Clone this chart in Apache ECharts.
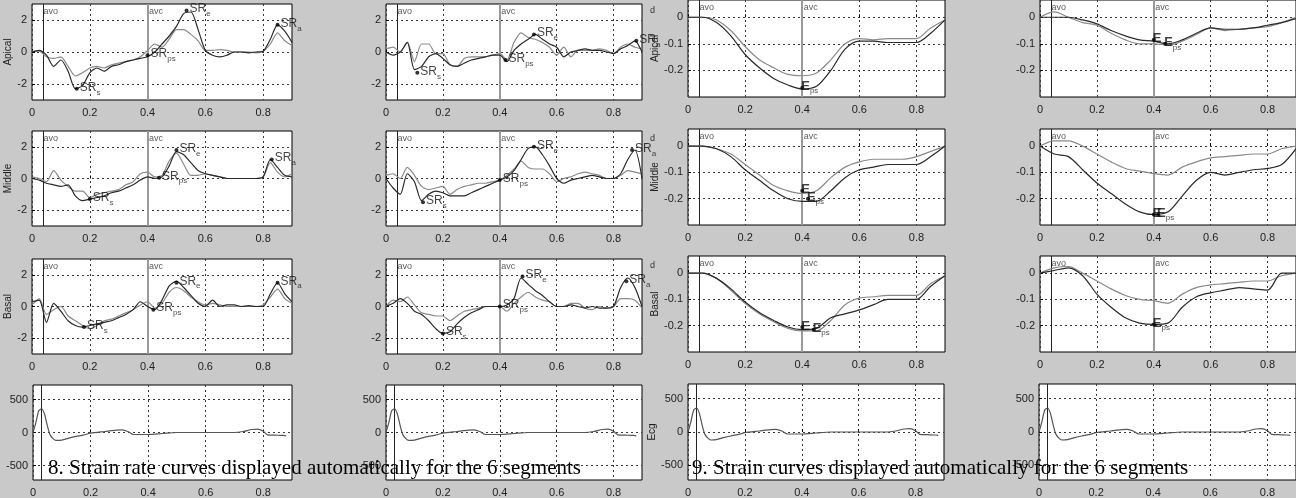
<!DOCTYPE html>
<html><head><meta charset="utf-8">
<script src="https://cdn.jsdelivr.net/npm/echarts@6/dist/echarts.min.js"></script>
<style>html,body{margin:0;padding:0;background:#c9c9c9;}#c{width:1296px;height:498px;}</style>
</head><body><div id="c"></div>
<script>
// ---------- data ----------
const xSR = [0,0.025,0.05,0.075,0.1,0.125,0.15,0.175,0.2,0.225,0.25,0.275,0.3,0.325,0.35,0.375,0.4,0.425,0.45,0.475,0.5,0.525,0.55,0.575,0.6,0.625,0.65,0.675,0.7,0.725,0.75,0.775,0.8,0.825,0.85,0.875,0.9];
const xST = [0,0.05,0.1,0.15,0.2,0.25,0.3,0.35,0.4,0.45,0.5,0.55,0.6,0.65,0.7,0.75,0.8,0.85,0.9];
const xECG = [0,0.01,0.02,0.03,0.04,0.05,0.06,0.08,0.1,0.125,0.15,0.175,0.2,0.25,0.29,0.31,0.33,0.35,0.4,0.45,0.5,0.6,0.7,0.73,0.76,0.78,0.8,0.815,0.84,0.87,0.88];

const X_TICKS = [0,0.2,0.4,0.6,0.8];
const SR_TICKS = [-2,0,2];
const ST_TICKS = [-0.2,-0.1,0];
const ECG_TICKS = [-500,0,500];
const AVO = 0.035, AVC = 0.4, AVO_ECG = 0.03;

// strain rate, column 1
const srApicalA = [0,0.1,-0.2,-0.9,-0.5,-1.2,-2.3,-2.1,-1.3,-1.0,-1.2,-0.9,-0.8,-0.6,-0.5,-0.4,-0.3,0.0,0.5,1.0,1.6,2.4,2.5,1.4,0.1,-0.2,-0.3,-0.2,0,0,-0.05,0,0.05,0.8,1.7,1.3,0.6];
const srApicalB = [0.05,0.05,-0.3,-0.4,-0.3,-0.9,-1.5,-1.3,-1.0,-0.9,-1.0,-0.8,-0.7,-0.6,-0.5,-0.3,0.1,0.5,0.3,0.8,1.4,1.4,1.1,0.7,0.1,0.1,0.15,0.1,0,0,0,-0.05,0.05,0.5,1.2,0.7,0.4];
const srMiddleA = [0,-0.1,-0.3,-0.4,-0.5,-0.4,-1.1,-1.4,-1.3,-1.2,-1.1,-0.9,-0.8,-0.6,-0.4,-0.1,0.1,0.0,0.1,0.8,1.7,1.5,1.0,0.5,0.3,0.2,0.1,0.0,0,0,0,0,0.1,1.2,0.7,0.2,0.1];
const srMiddleB = [0.1,0.0,-0.2,0.5,-0.1,-0.5,-0.8,-0.8,-1.2,-1.0,-0.9,-0.8,-0.7,-0.4,-0.2,0.3,0.4,0.1,0.2,1.1,1.6,0.9,0.2,0.2,0.3,0.2,0.1,0,0,0,0,0,0.1,1.0,0.4,0.1,0.3];
const srBasalA = [0.3,0.4,-1.0,0.2,-0.3,-0.9,-1.2,-1.3,-1.2,-1.1,-1.0,-0.9,-0.7,-0.5,-0.2,0.3,0.0,-0.2,0.4,1.3,1.6,1.2,0.7,0.2,0.0,0.4,0.0,0.1,0.1,0.0,0.05,0,0,0.8,1.5,0.8,0.3];
const srBasalB = [0.1,0.5,-0.5,-0.2,0.0,-0.6,-0.9,-1.2,-1.4,-1.2,-0.9,-0.8,-0.6,-0.4,-0.2,0.1,0.3,-0.1,0.2,0.9,1.2,1.0,0.6,0.3,0.1,0.2,0.1,0.0,0.0,0.0,0.0,0.0,0.1,0.6,1.1,0.5,0.2];
// strain rate, column 2
const srApical2A = [0,-0.2,0.0,0.6,-1.1,-0.9,-0.3,-0.1,-0.4,-0.8,-0.9,-0.7,-0.5,-0.4,-0.3,-0.2,-0.2,-0.6,0.1,0.5,0.8,1.1,0.8,0.5,0.3,-0.3,0.0,0.1,0.2,0.1,0.1,0.0,-0.1,0.2,0.4,0.7,0.0];
const srApical2B = [0.2,0.3,0.0,0.6,-0.6,0.5,0.5,-0.1,-0.1,-0.8,-0.9,-0.4,-0.3,-0.3,-0.3,-0.2,-0.1,-0.5,0.6,1.2,0.9,0.8,0.6,0.3,-0.2,0.3,-0.3,0.1,0.1,0.1,0.2,0.1,-0.1,0.3,0.5,0.3,0.2];
const srMiddle2A = [0,-0.6,-1.0,0.3,-0.2,-1.4,-1.0,-0.8,-0.9,-1.1,-1.1,-1.1,-0.9,-0.7,-0.5,-0.3,-0.1,0.1,0.5,1.2,1.9,2.0,1.5,0.8,0.0,-0.3,-0.1,0.0,0.1,0.2,0.1,0,0,0.3,1.2,1.8,0.0];
const srMiddle2B = [0.2,0.3,0.0,0.7,0.2,-0.5,-0.7,-0.6,-0.5,-1.0,-0.7,-0.5,-0.4,-0.3,-0.3,-0.2,-0.1,0.2,0.6,1.1,0.7,0.6,0.6,0.3,-0.2,0.0,0.1,0.3,0.4,0.3,0.2,0.0,0.0,0.2,0.5,0.4,0.3];
const srBasal2A = [0,0.2,0.5,0.2,-0.3,-0.5,-0.9,-1.4,-1.7,-1.6,-1.1,-0.7,-0.4,-0.2,0.0,0.0,0.0,0.1,0.5,1.8,1.4,1.0,0.7,0.3,0.0,0.0,0.1,0.0,-0.1,0,-0.1,-0.1,0,1.2,1.8,1.2,0.0];
const srBasal2B = [0.0,0.4,0.3,0.6,0.1,-0.4,-0.5,-0.6,-0.6,-0.9,-0.6,-0.3,-0.2,-0.1,0.0,0.0,0.0,-0.3,0.2,0.6,0.9,0.6,0.4,0.3,0.0,0.0,0.2,0.2,-0.1,-0.2,0.0,-0.1,0.0,0.5,0.5,0.4,-0.1];
// strain, column 3
const stApicalA = [0,0,-0.02,-0.07,-0.14,-0.19,-0.23,-0.255,-0.27,-0.26,-0.2,-0.12,-0.09,-0.09,-0.095,-0.095,-0.095,-0.06,-0.01];
const stApicalB = [0,0,-0.01,-0.05,-0.11,-0.16,-0.19,-0.215,-0.22,-0.21,-0.16,-0.1,-0.08,-0.085,-0.08,-0.08,-0.08,-0.04,-0.01];
const stMiddleA = [0,0,-0.01,-0.04,-0.09,-0.13,-0.17,-0.2,-0.21,-0.21,-0.17,-0.12,-0.09,-0.08,-0.07,-0.07,-0.07,-0.04,0.0];
const stMiddleB = [0,0,-0.01,-0.03,-0.07,-0.11,-0.15,-0.17,-0.18,-0.17,-0.12,-0.08,-0.06,-0.05,-0.05,-0.05,-0.04,-0.02,0.0];
const stBasalA = [0,0,-0.02,-0.06,-0.11,-0.15,-0.18,-0.205,-0.215,-0.21,-0.17,-0.155,-0.14,-0.12,-0.1,-0.1,-0.1,-0.05,-0.01];
const stBasalB = [0,0,-0.02,-0.065,-0.115,-0.155,-0.185,-0.21,-0.22,-0.22,-0.18,-0.12,-0.095,-0.09,-0.085,-0.085,-0.085,-0.04,-0.01];
// strain, column 4
const stApical2A = [0,0,0,-0.01,-0.025,-0.05,-0.07,-0.085,-0.09,-0.1,-0.085,-0.06,-0.04,-0.045,-0.045,-0.04,-0.03,-0.02,-0.005];
const stApical2B = [0,0.02,0,-0.02,-0.03,-0.06,-0.085,-0.1,-0.1,-0.105,-0.09,-0.065,-0.04,-0.05,-0.045,-0.04,-0.035,-0.02,0];
const stMiddle2A = [0,-0.03,-0.04,-0.09,-0.14,-0.18,-0.22,-0.25,-0.26,-0.25,-0.19,-0.13,-0.1,-0.11,-0.1,-0.09,-0.085,-0.07,-0.01];
const stMiddle2B = [0,0.02,0.02,0,-0.03,-0.06,-0.085,-0.095,-0.105,-0.11,-0.08,-0.06,-0.045,-0.04,-0.035,-0.03,-0.03,-0.01,0];
const stBasal2A = [0,0.01,0.02,-0.01,-0.08,-0.13,-0.17,-0.19,-0.195,-0.19,-0.13,-0.09,-0.075,-0.065,-0.055,-0.06,-0.065,0.0,0.0];
const stBasal2B = [0,0.02,0.025,0,-0.03,-0.06,-0.085,-0.1,-0.105,-0.115,-0.08,-0.055,-0.045,-0.04,-0.035,-0.03,-0.03,-0.01,0];
// ECG
const ecgY = [0,150,330,360,280,100,-40,-120,-115,-85,-60,-40,-10,15,35,40,15,-30,-30,-15,0,0,0,15,45,50,20,-35,-40,-45,-50];

// annotation markers [x, y, main, subscript]
const mkSrApical = [[0.155,-2.3,'SR','s'],[0.4,-0.2,'SR','ps'],[0.535,2.6,'SR','e'],[0.85,1.7,'SR','a']];
const mkSrMiddle = [[0.2,-1.3,'SR','s'],[0.44,0.05,'SR','ps'],[0.5,1.8,'SR','e'],[0.83,1.2,'SR','a']];
const mkSrBasal = [[0.18,-1.3,'SR','s'],[0.42,-0.2,'SR','ps'],[0.5,1.5,'SR','e'],[0.85,1.5,'SR','a']];
const mkSrApical2 = [[0.11,-1.3,'SR','s'],[0.42,-0.5,'SR','ps'],[0.52,1.1,'SR','e'],[0.88,0.7,'SR','a']];
const mkSrMiddle2 = [[0.13,-1.5,'SR','s'],[0.4,-0.1,'SR','ps'],[0.52,2.0,'SR','e'],[0.865,1.8,'SR','a']];
const mkSrBasal2 = [[0.2,-1.7,'SR','s'],[0.4,0.0,'SR','ps'],[0.48,1.9,'SR','e'],[0.845,1.6,'SR','a']];
const mkStApical = [[0.4,-0.265,'E','ps']];
const mkStMiddle = [[0.4,-0.17,'E',''],[0.42,-0.2,'E','ps']];
const mkStBasal = [[0.4,-0.205,'E',''],[0.44,-0.215,'E','ps']];
const mkStApical2 = [[0.4,-0.085,'E',''],[0.44,-0.1,'E','ps']];
const mkStMiddle2 = [[0.4,-0.26,'E',''],[0.415,-0.26,'E','ps']];
const mkStBasal2 = [[0.4,-0.195,'E','ps']];

const caption8 = '8. Strain rate curves displayed automatically for the 6 segments';
const caption9 = '9. Strain curves displayed automatically for the 6 segments';

// ---------- layout ----------
const FONT = '"Liberation Sans", Arial, sans-serif';
const panels = [
  {rect:[32,4,260,96], kind:'sr', name:'Apical', xs:xSR, lines:[srApicalA, srApicalB], marks:mkSrApical},
  {rect:[32,131,260,95], kind:'sr', name:'Middle', xs:xSR, lines:[srMiddleA, srMiddleB], marks:mkSrMiddle},
  {rect:[32,259,260,95], kind:'sr', name:'Basal', xs:xSR, lines:[srBasalA, srBasalB], marks:mkSrBasal},
  {rect:[33,385,259,100], kind:'ecg', name:'', xs:xECG, lines:[ecgY], marks:[]},
  {rect:[386,4,256,96], kind:'sr', name:'', xs:xSR, lines:[srApical2A, srApical2B], marks:mkSrApical2},
  {rect:[386,131,256,95], kind:'sr', name:'', xs:xSR, lines:[srMiddle2A, srMiddle2B], marks:mkSrMiddle2},
  {rect:[386,259,256,95], kind:'sr', name:'', xs:xSR, lines:[srBasal2A, srBasal2B], marks:mkSrBasal2},
  {rect:[386,385,256,100], kind:'ecg', name:'', xs:xECG, lines:[ecgY], marks:[]},
  {rect:[688,0,257,97], kind:'st', name:'Apical', xs:xST, lines:[stApicalA, stApicalB], marks:mkStApical},
  {rect:[688,129,257,96], kind:'st', name:'Middle', xs:xST, lines:[stMiddleA, stMiddleB], marks:mkStMiddle},
  {rect:[688,256,257,96], kind:'st', name:'Basal', xs:xST, lines:[stBasalA, stBasalB], marks:mkStBasal},
  {rect:[688,384,256,96], kind:'ecg', name:'Ecg', xs:xECG, lines:[ecgY], marks:[]},
  {rect:[1040,0,258,97], kind:'st', name:'', xs:xST, lines:[stApical2A, stApical2B], marks:mkStApical2},
  {rect:[1040,129,258,96], kind:'st', name:'', xs:xST, lines:[stMiddle2A, stMiddle2B], marks:mkStMiddle2},
  {rect:[1040,256,258,96], kind:'st', name:'', xs:xST, lines:[stBasal2A, stBasal2B], marks:mkStBasal2},
  {rect:[1039,384,258,96], kind:'ecg', name:'', xs:xECG, lines:[ecgY], marks:[]}
];
const KIND = {
  sr: {min:-3, max:3, ticks:SR_TICKS, labY:2.5, avo:AVO, avc:true, gap:16},
  st: {min:-0.3, max:0.065, ticks:ST_TICKS, labY:0.035, avo:AVO, avc:true, gap:28},
  ecg:{min:-720, max:720, ticks:ECG_TICKS, labY:null, avo:AVO_ECG, avc:false, gap:30}
};
const LINE_COLORS = ['#2a2a2a', '#8a8a8a'];

const option = {backgroundColor:'#c9c9c9', animation:false, grid:[], xAxis:[], yAxis:[], series:[], graphic:[]};

panels.forEach((p, i) => {
  const k = KIND[p.kind];
  option.grid.push({left:p.rect[0], top:p.rect[1], width:p.rect[2], height:p.rect[3], show:true,
    backgroundColor:'#ffffff', borderColor:'#000', borderWidth:1});
  const split = {show:true, lineStyle:{color:'#3a3a3a', type:[2,3], width:1}};
  option.xAxis.push({type:'value', gridIndex:i, min:0, max:0.9,
    axisLine:{show:false},
    axisTick:{show:true, inside:true, length:3, customValues:X_TICKS, lineStyle:{color:'#000'}},
    axisLabel:{customValues:X_TICKS, fontSize:11, fontFamily:FONT, color:'#222', margin:7},
    splitLine:split});
  option.yAxis.push({type:'value', gridIndex:i, min:k.min, max:k.max,
    name:p.name, nameLocation:'middle', nameGap:k.gap, nameRotate:90,
    nameTextStyle:{fontSize:10, fontFamily:FONT, color:'#222'},
    axisLine:{show:false},
    axisTick:{show:true, inside:true, length:3, customValues:k.ticks, lineStyle:{color:'#000'}},
    axisLabel:{customValues:k.ticks, fontSize:11, fontFamily:FONT, color:'#222', margin:5},
    splitLine:split});
  const ml = [{xAxis:k.avo, lineStyle:{color:'#222', width:1, type:'solid'}}];
  if (k.avc) ml.push({xAxis:AVC, lineStyle:{color:'#9a9a9a', width:2, type:'solid'}});
  p.lines.forEach((ys, j) => {
    const s = {type:'line', xAxisIndex:i, yAxisIndex:i, symbol:'none', smooth:p.kind==='st'?0.3:0.25,
      data:p.xs.map((x, n) => [x, ys[n]]),
      lineStyle:{color:p.kind==='ecg' ? '#555' : LINE_COLORS[j % 2], width:1.2},
      z:3+(p.lines.length-j)};
    if (j === 0) s.markLine = {silent:true, symbol:['none','none'], label:{show:false}, data:ml, z:2};
    option.series.push(s);
  });
  if (k.labY !== null) {
    const lab = [[k.avo, k.labY, 'avo']];
    if (k.avc) lab.push([AVC, k.labY, 'avc']);
    option.series.push({type:'scatter', xAxisIndex:i, yAxisIndex:i, symbolSize:1, itemStyle:{color:'rgba(0,0,0,0)'},
      silent:true, z:6,
      data:lab.map(d => ({value:[d[0], d[1]], label:{show:true, position:'right', distance:1, formatter:d[2],
        fontSize:9, fontFamily:FONT, color:'#333'}}))});
  }
  if (p.marks.length) {
    const isE = p.kind === 'st';
    option.series.push({type:'scatter', xAxisIndex:i, yAxisIndex:i, symbol:'circle', symbolSize:4,
      itemStyle:{color:'#000'}, silent:true, z:7,
      data:p.marks.map(m => ({value:[m[0], m[1]], label:{show:true, position:'right', distance:isE?-3:1,
        formatter: m[3] ? '{a|' + m[2] + '}{b|' + m[3] + '}' : '{a|' + m[2] + '}',
        rich:{a:{fontSize:isE?13:12, fontWeight:isE?'bold':'normal', fontFamily:FONT, color:'#111', verticalAlign:'top', lineHeight:15},
              b:{fontSize:8, fontFamily:FONT, color:'#222', verticalAlign:'bottom', lineHeight:15}}}}))});
  }
});

// small clipped letters and captions
[6, 134, 261].forEach(y => option.graphic.push({type:'text', left:650, top:y, silent:true,
  style:{text:'d', font:'9px ' + FONT, fill:'#333'}}));
option.graphic.push({type:'text', left:48, top:458, silent:true, z:100,
  style:{text:caption8, font:'21px "Liberation Serif", "Times New Roman", serif', fill:'#000'}});
option.graphic.push({type:'text', left:692, top:458, silent:true, z:100,
  style:{text:caption9, font:'21px "Liberation Serif", "Times New Roman", serif', fill:'#000'}});

const chart = echarts.init(document.getElementById('c'), null, {renderer:'canvas', width:1296, height:498});
chart.setOption(option);
</script></body></html>
